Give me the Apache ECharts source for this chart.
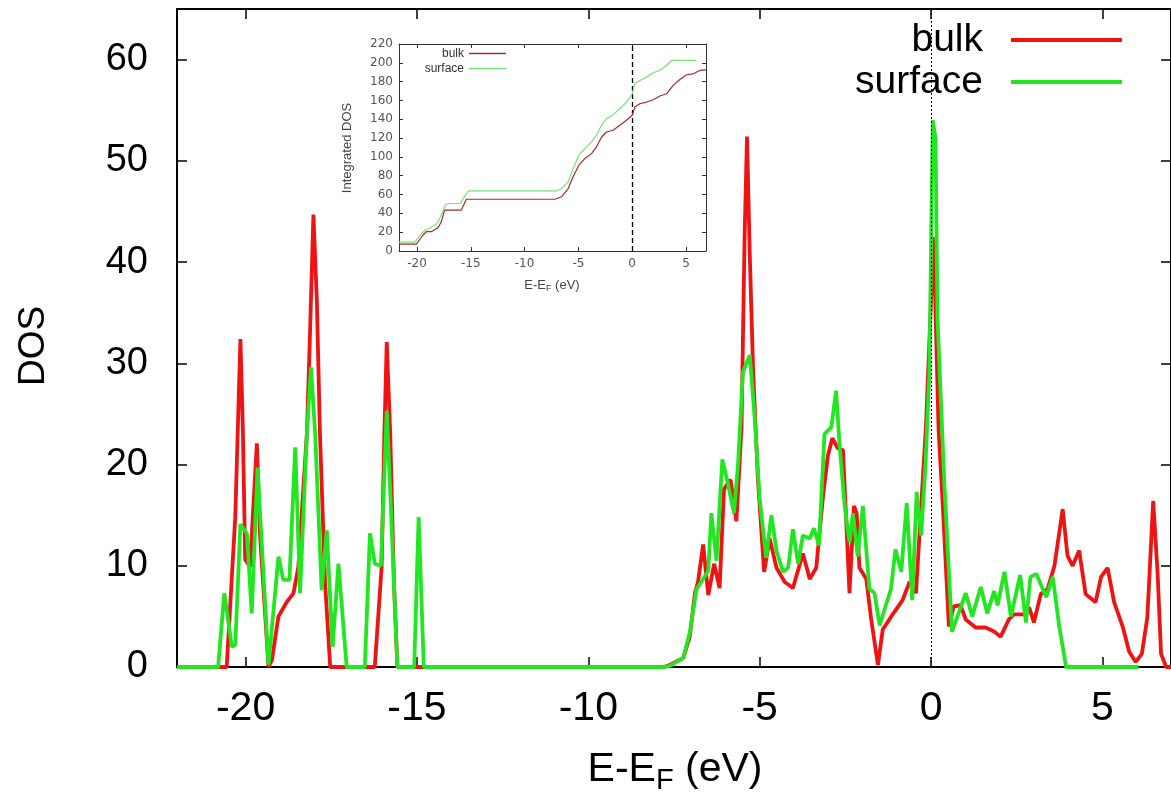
<!DOCTYPE html>
<html><head><meta charset="utf-8">
<script src="https://cdn.jsdelivr.net/npm/echarts@6/dist/echarts.min.js"></script>
<style>html,body{margin:0;padding:0;background:#fff}#c{width:1171px;height:797px}</style>
</head><body><div id="c"></div>
<script>
// ---------- data ----------
const seriesNames = ['bulk', 'surface'];
const mainTicksX = [-20, -15, -10, -5, 0, 5];
const mainTicksY = [0, 10, 20, 30, 40, 50, 60];
const insetTicksX = [-20, -15, -10, -5, 0, 5];
const insetTicksY = [0, 20, 40, 60, 80, 100, 120, 140, 160, 180, 200, 220];
const fermiLevel = 0;

// DOS (E - E_F in eV, DOS)
const bulkDOS = [
  [-22, 0], [-20.55, 0], [-20.3, 14.8], [-20.15, 32.4], [-20.08, 23.7], [-20.01, 10.6], [-19.87, 9.9],
  [-19.67, 22.1], [-19.58, 13.2], [-19.33, 0], [-19.23, 0.7], [-19.04, 5.0], [-18.8, 6.4], [-18.6, 7.3],
  [-18.46, 9.9], [-18.21, 23.1], [-18.12, 32.9], [-18.02, 44.7], [-17.92, 36.2], [-17.83, 23.1],
  [-17.68, 8.3], [-17.53, 0], [-16.23, 0], [-16.03, 9.9], [-15.95, 23.1], [-15.88, 32.1], [-15.78, 23.1],
  [-15.67, 8.3], [-15.57, 0],
  [-7.8, 0], [-7.62, 0.2], [-7.23, 0.9], [-7.04, 3.0], [-6.89, 7.3], [-6.8, 8.4], [-6.65, 12.1],
  [-6.5, 7.1], [-6.33, 10.2], [-6.17, 7.8], [-6.04, 17.6], [-5.85, 18.5], [-5.68, 14.4], [-5.53, 23.7],
  [-5.44, 42.6], [-5.37, 52.4], [-5.29, 40.8], [-5.19, 29.1], [-5.05, 18.4], [-4.87, 9.4], [-4.71, 12.7],
  [-4.51, 9.8], [-4.27, 8.4], [-4.03, 7.8], [-3.74, 11.2], [-3.54, 8.7], [-3.35, 9.8], [-3.16, 16.6],
  [-3.01, 20.9], [-2.88, 22.6], [-2.72, 21.6], [-2.57, 21.4], [-2.48, 14.8], [-2.38, 7.3], [-2.25, 15.9],
  [-2.17, 15.2], [-2.09, 9.8], [-1.89, 8.7], [-1.75, 4.8], [-1.55, 0.2], [-1.41, 3.7], [-1.12, 5.2],
  [-0.83, 6.6], [-0.63, 8.4], [-0.44, 7.3], [-0.34, 13.0], [-0.15, 23.7], [0.0, 36.2], [0.05, 42.5],
  [0.1, 39.2], [0.22, 23.4], [0.34, 16.1], [0.52, 4.0], [0.66, 6.0], [0.86, 6.1], [1.01, 4.7],
  [1.3, 3.9], [1.59, 3.9], [1.84, 3.5], [2.03, 3.0], [2.27, 4.7], [2.42, 5.2], [2.71, 5.2], [2.86, 5.9],
  [3.0, 4.4], [3.2, 7.2], [3.4, 7.7], [3.6, 10.0], [3.84, 15.6], [3.98, 11.0], [4.13, 10.0], [4.32, 11.5],
  [4.51, 7.2], [4.8, 6.4], [4.96, 8.9], [5.15, 9.8], [5.34, 6.4], [5.59, 4.0], [5.78, 1.5], [5.97, 0.5],
  [6.15, 1.3], [6.31, 4.9], [6.48, 16.4], [6.61, 9.2], [6.71, 1.3], [6.86, 0], [7.0, 0]
];
const surfaceDOS = [
  [-22, 0], [-20.8, 0], [-20.62, 7.3], [-20.4, 2.0], [-20.3, 2.2], [-20.15, 14.1], [-19.96, 13.2],
  [-19.82, 5.3], [-19.65, 19.7], [-19.33, 0.2], [-19.04, 10.9], [-18.9, 8.6], [-18.72, 8.6],
  [-18.55, 21.7], [-18.41, 7.3], [-18.21, 23.1], [-18.09, 29.6], [-17.97, 23.1], [-17.78, 7.6],
  [-17.63, 13.5], [-17.46, 2.0], [-17.29, 10.2], [-17.05, 0], [-16.52, 0], [-16.37, 13.2], [-16.23, 10.2],
  [-16.05, 10.0], [-15.88, 25.3], [-15.76, 15.8], [-15.57, 0], [-15.08, 0], [-14.95, 14.8], [-14.8, 0],
  [-7.8, 0], [-7.62, 0.1], [-7.23, 0.9], [-7.04, 3.4], [-6.84, 7.7], [-6.65, 8.7], [-6.5, 9.5],
  [-6.41, 15.2], [-6.26, 10.5], [-6.09, 20.5], [-5.92, 18.0], [-5.75, 15.2], [-5.63, 20.1], [-5.49, 29.1],
  [-5.29, 30.8], [-5.15, 24.8], [-5.0, 16.6], [-4.81, 10.8], [-4.66, 15.0], [-4.51, 11.5], [-4.32, 9.4],
  [-4.17, 9.8], [-4.03, 13.6], [-3.88, 10.2], [-3.74, 13.0], [-3.54, 12.7], [-3.42, 13.7], [-3.27, 12.0],
  [-3.11, 23.0], [-2.91, 23.7], [-2.77, 27.3], [-2.67, 21.9], [-2.52, 15.9], [-2.38, 12.3], [-2.28, 15.2],
  [-2.14, 10.9], [-1.99, 15.9], [-1.8, 7.7], [-1.65, 7.3], [-1.5, 4.1], [-1.31, 6.2], [-1.17, 7.7],
  [-1.04, 11.6], [-0.87, 9.4], [-0.71, 16.2], [-0.55, 6.6], [-0.42, 17.3], [-0.29, 13.0], [-0.16, 20.1],
  [-0.05, 29.1], [0.05, 54.0], [0.13, 52.2], [0.19, 34.2], [0.39, 18.0], [0.61, 3.5], [0.8, 5.3],
  [1.01, 7.3], [1.2, 5.0], [1.45, 7.9], [1.64, 5.3], [1.84, 7.5], [1.94, 6.1], [2.14, 9.4], [2.33, 5.0],
  [2.6, 9.1], [2.77, 4.4], [2.9, 8.9], [3.07, 9.2], [3.36, 6.9], [3.55, 8.9], [3.74, 4.0], [3.94, 0],
  [6.05, 0]
];

// Integrated DOS (inset)
const bulkIntDOS = [
  [-21.67, 7.4], [-20.06, 7.4], [-19.44, 17], [-19.13, 20.5], [-18.67, 20.5], [-18.05, 24.7],
  [-17.74, 31], [-17.43, 43.5], [-15.88, 43.5], [-15.41, 55], [-7.19, 55], [-6.57, 57.6], [-5.95, 66.4],
  [-5.49, 78.8], [-4.96, 91.2], [-4.4, 98.2], [-3.78, 103.5], [-3.32, 110.6], [-2.85, 121.2],
  [-2.39, 126.5], [-1.77, 128.3], [-1.15, 133.6], [-0.53, 138.9], [0, 144.2], [0.25, 153], [0.71, 156.5],
  [1.33, 158.3], [1.95, 160.8], [2.57, 164.7], [3.19, 167.1], [3.81, 176], [4.43, 182.3], [5.05, 187.3],
  [5.67, 188.3], [6.29, 191.9], [6.85, 192.6]
];
const surfaceIntDOS = [
  [-21.67, 9.5], [-20.2, 9.5], [-19.7, 17], [-19.23, 22.3], [-18.76, 24.7], [-18.14, 29.3],
  [-17.67, 39.9], [-17.36, 48.8], [-17.05, 50.5], [-15.97, 50.5], [-15.5, 59.4], [-15.19, 64],
  [-7.03, 64], [-6.57, 66.4], [-5.95, 73.5], [-5.49, 87.6], [-4.96, 101.8], [-4.4, 108.8], [-3.78, 115.9],
  [-3.32, 123], [-2.85, 133.6], [-2.39, 140.6], [-1.77, 144.9], [-1.15, 151.2], [-0.53, 158.3],
  [0, 167.1], [0.25, 177.7], [0.71, 181.3], [1.33, 184.8], [1.95, 189.4], [2.57, 191.9], [3.19, 197.2],
  [3.66, 202.5], [5.95, 202.5]
];

// ---------- chart ----------
const FONT = '"Liberation Sans", Arial, Helvetica, sans-serif';
const RED = '#ee1414', GREEN = '#22e622', IRED = '#a82a2c', IGREEN = '#78e078';

function mainX(pos, labels) {
  return {
    gridIndex: 0, type: 'value', min: -22, max: 7, position: pos,
    axisLine: { show: true, onZero: false, lineStyle: { color: '#000', width: 2 } },
    axisTick: { show: true, inside: true, length: 10, customValues: mainTicksX, lineStyle: { color: '#000', width: 1.5 } },
    axisLabel: { show: labels, customValues: mainTicksX, fontSize: 41, color: '#000', margin: 42,
      verticalAlign: 'middle', fontFamily: FONT },
    splitLine: { show: false }
  };
}
function mainY(pos, labels) {
  return {
    gridIndex: 0, type: 'value', min: 0, max: 65, position: pos,
    axisLine: { show: true, onZero: false, lineStyle: { color: '#000', width: 2 } },
    axisTick: { show: true, inside: true, length: 10, customValues: mainTicksY, lineStyle: { color: '#000', width: 1.5 } },
    axisLabel: { show: labels, customValues: mainTicksY, fontSize: 38, color: '#000', margin: 29, fontFamily: FONT },
    splitLine: { show: false }
  };
}
function insetX(pos, labels) {
  return {
    gridIndex: 1, type: 'value', min: -21.67, max: 6.86, position: pos,
    axisLine: { show: true, onZero: false, lineStyle: { color: '#333', width: 1 } },
    axisTick: { show: true, inside: true, length: 4, customValues: insetTicksX, lineStyle: { color: '#333', width: 1 } },
    axisLabel: { show: labels, customValues: insetTicksX, fontSize: 12, color: '#555', margin: 13,
      verticalAlign: 'middle', fontFamily: '"DejaVu Sans", sans-serif' },
    splitLine: { show: false }
  };
}
function insetY(pos, labels) {
  return {
    gridIndex: 1, type: 'value', min: 0, max: 220, position: pos,
    axisLine: { show: true, onZero: false, lineStyle: { color: '#333', width: 1 } },
    axisTick: { show: true, inside: true, length: 4, customValues: insetTicksY, lineStyle: { color: '#333', width: 1 } },
    axisLabel: { show: labels, customValues: insetTicksY, fontSize: 12, color: '#555', margin: 6,
      fontFamily: '"DejaVu Sans", sans-serif' },
    splitLine: { show: false }
  };
}

const chart = echarts.init(document.getElementById('c'), null, { renderer: 'canvas', width: 1171, height: 797 });
chart.setOption({
  animation: false,
  backgroundColor: '#fff',
  grid: [
    { left: 177, right: -2, top: 9, bottom: 130, show: false },
    { left: 399, right: 465, top: 44, bottom: 546, show: true, backgroundColor: '#fff', borderWidth: 0 }
  ],
  xAxis: [mainX('bottom', true), mainX('top', false), insetX('bottom', true), insetX('top', false)],
  yAxis: [mainY('left', true), mainY('right', false), insetY('left', true), insetY('right', false)],
  legend: [
    {
      data: seriesNames.map(n => ({ name: n })),
      orient: 'vertical', align: 'right', right: 49, top: 19, padding: 0, itemGap: 0,
      itemWidth: 111, itemHeight: 4, icon: 'rect', selectedMode: false,
      textStyle: { fontSize: 39, lineHeight: 42, color: '#000', fontFamily: FONT, padding: [0, 23, 0, 0] }
    },
    {
      data: [{ name: seriesNames[0], itemStyle: { color: IRED } }, { name: seriesNames[1], itemStyle: { color: IGREEN } }],
      orient: 'vertical', align: 'right', right: 665, top: 46, padding: 0, itemGap: 0,
      itemWidth: 37, itemHeight: 1.5, icon: 'rect', selectedMode: false,
      textStyle: { fontSize: 12, lineHeight: 15, color: '#333', fontFamily: FONT }
    }
  ],
  series: [
    {
      name: seriesNames[0], type: 'line', xAxisIndex: 0, yAxisIndex: 0, data: bulkDOS,
      symbol: 'none', showSymbol: false, lineStyle: { color: RED, width: 3.8 }, itemStyle: { color: RED }, z: 3,
      markLine: {
        silent: true, symbol: 'none', label: { show: false },
        lineStyle: { type: [2, 2], color: '#000', width: 1 }, data: [{ xAxis: fermiLevel }]
      }
    },
    {
      name: seriesNames[1], type: 'line', xAxisIndex: 0, yAxisIndex: 0, data: surfaceDOS,
      symbol: 'none', showSymbol: false, lineStyle: { color: GREEN, width: 3.8 }, itemStyle: { color: GREEN }, z: 4
    },
    {
      name: seriesNames[0], type: 'line', xAxisIndex: 2, yAxisIndex: 2, data: bulkIntDOS,
      symbol: 'none', showSymbol: false, lineStyle: { color: IRED, width: 1.2 }, itemStyle: { color: IRED }, z: 6,
      markLine: {
        silent: true, symbol: 'none', label: { show: false },
        lineStyle: { type: [5, 3], color: '#000', width: 1.3 }, data: [{ xAxis: fermiLevel }]
      }
    },
    {
      name: seriesNames[1], type: 'line', xAxisIndex: 2, yAxisIndex: 2, data: surfaceIntDOS,
      symbol: 'none', showSymbol: false, lineStyle: { color: IGREEN, width: 1.2 }, itemStyle: { color: IGREEN }, z: 6
    }
  ],
  graphic: [
    { type: 'text', x: 34, y: 346, rotation: Math.PI / 2,
      style: { text: 'DOS', fontSize: 37, fontFamily: FONT, fill: '#000', align: 'center', verticalAlign: 'middle' } },
    { type: 'text', x: 675, y: 770,
      style: { text: '{a|E-E}{s|F}{a| (eV)}', align: 'center', verticalAlign: 'middle',
        rich: { a: { fontSize: 41, fontFamily: FONT, fill: '#000' },
                s: { fontSize: 29, fontFamily: FONT, fill: '#000', padding: [22, 0, 0, 0] } } } },
    { type: 'text', x: 347, y: 148, rotation: Math.PI / 2,
      style: { text: 'Integrated DOS', fontSize: 13, fontFamily: FONT, fill: '#444', align: 'center', verticalAlign: 'middle' } },
    { type: 'text', x: 552, y: 285,
      style: { text: '{a|E-E}{s|F}{a| (eV)}', align: 'center', verticalAlign: 'middle',
        rich: { a: { fontSize: 13, fontFamily: FONT, fill: '#444' },
                s: { fontSize: 9, fontFamily: FONT, fill: '#444', padding: [7, 0, 0, 0] } } } }
  ]
});
</script>
</body></html>
